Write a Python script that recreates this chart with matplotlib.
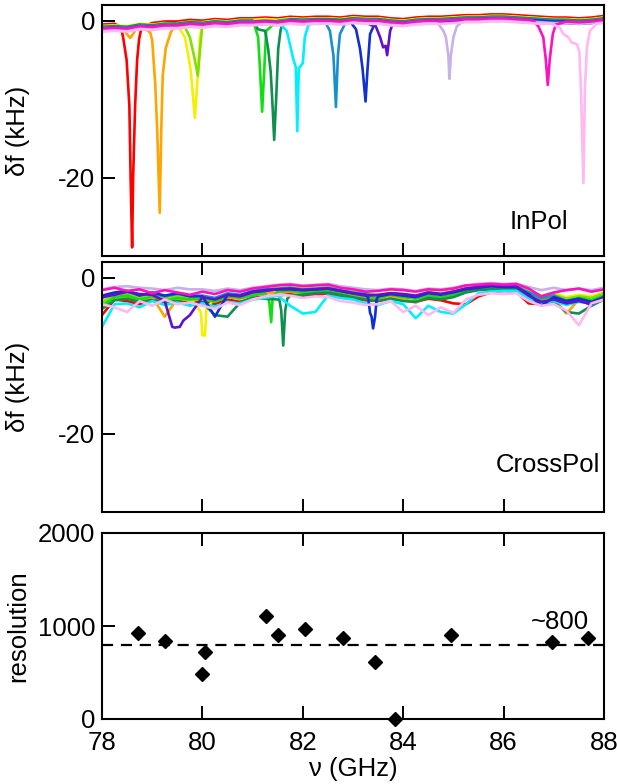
import numpy as np
import matplotlib
matplotlib.use("Agg")
import matplotlib.pyplot as plt

plt.rcParams["font.family"] = ["Liberation Sans", "DejaVu Sans"]
plt.rcParams["font.size"] = 18.5
plt.rcParams["axes.unicode_minus"] = False

# Trace colours (one per resonator)
colors = ["#ff0000", "#ffa500", "#f5f000", "#80e000", "#10e010", "#109050", "#00f0ff",
          "#1890d0", "#1030d0", "#6010d0", "#c8b0e8", "#ff10c0", "#ffb8f0"]

# === InPol: shared baseline (GHz, kHz) + per-trace offset + dip vertices
in_base_x = [78.00, 78.25, 78.50, 78.75, 79.00, 79.25, 79.50, 79.75, 80.00, 80.25, 80.50,
             80.75, 81.00, 81.25, 81.50, 81.75, 82.00, 82.25, 82.50, 82.75, 83.00, 83.25,
             83.50, 83.75, 84.00, 84.25, 84.50, 84.75, 85.00, 85.25, 85.50, 85.75, 86.00,
             86.25, 86.50, 86.75, 87.00, 87.25, 87.50, 87.75, 88.00]
in_base_y = [-0.9, -0.8, -0.9, -0.6, -0.7, -0.5, -0.5, -0.3, -0.4, -0.2, -0.3,
             -0.1, -0.1, 0.0, -0.1, 0.1, 0.0, 0.1, 0.1, 0.0, 0.2, 0.1,
             0.1, -0.1, -0.2, 0.0, 0.1, 0.1, 0.2, 0.3, 0.3, 0.4, 0.4,
             0.3, 0.2, 0.1, 0.0, 0.0, -0.1, 0.0, 0.2]
in_offset = [0.4, 0.2, 0.2, 0.0, 0.1, 0.1, -0.2, 0.0, -0.1, -0.3, -0.3, -0.1, -0.5]

dip_red_x = [78.38, 78.425, 78.49, 78.545, 78.57, 78.60, 78.62, 78.66, 78.70, 78.74, 78.79]
dip_red_y = [-0.8, -2.3, -5.0, -10.8, -20.0, -28.9, -20.0, -10.8, -5.0, -2.3, -0.8]
dip_orange_x = [78.40, 78.48, 78.56, 78.62, 78.69, 78.80, 78.96, 79.00, 79.06, 79.10, 79.15,
                79.18, 79.21, 79.27, 79.37, 79.45]
dip_orange_y = [-0.8, -1.6, -2.2, -1.7, -0.9, -0.8, -1.5, -2.5, -8.0, -14.0, -24.5,
                -14.0, -7.0, -3.5, -1.5, -0.6]
dip_yellow_x = [79.50, 79.65, 79.72, 79.77, 79.85, 79.90, 79.95, 79.99]
dip_yellow_y = [-0.5, -2.1, -4.4, -6.5, -12.4, -7.6, -2.1, -0.8]
dip_chart_x = [79.62, 79.75, 79.83, 79.91, 79.95, 79.99, 80.05]
dip_chart_y = [-0.4, -2.1, -4.4, -7.0, -3.9, -1.1, -0.5]
dip_green_x = [81.05, 81.11, 81.15, 81.19, 81.23, 81.27]
dip_green_y = [-0.85, -2.1, -6.5, -11.6, -6.5, -1.3]
dip_dkgreen_x = [81.11, 81.25, 81.31, 81.36, 81.39, 81.43, 81.47, 81.51, 81.56, 81.61]
dip_dkgreen_y = [-1.1, -1.3, -3.6, -6.5, -9.9, -15.2, -9.9, -3.6, -1.1, -0.3]
dip_cyan_x = [81.55, 81.68, 81.75, 81.81, 81.86, 81.89, 81.92, 82.00, 82.04, 82.11]
dip_cyan_y = [-0.4, -1.3, -3.2, -4.9, -5.9, -14.1, -6.1, -5.4, -2.1, -0.6]
dip_steel_x = [82.44, 82.54, 82.61, 82.66, 82.70, 82.74, 82.84]
dip_steel_y = [-0.1, -1.3, -4.4, -11.0, -4.4, -1.7, -0.4]
dip_blue_x = [82.94, 83.06, 83.14, 83.19, 83.25, 83.29, 83.34, 83.44]
dip_blue_y = [-0.1, -1.1, -3.6, -6.1, -10.3, -6.1, -1.7, -0.3]
dip_purple_x = [83.37, 83.44, 83.54, 83.60, 83.65, 83.68, 83.74, 83.79]
dip_purple_y = [-0.6, -0.5, -2.1, -3.4, -3.2, -4.4, -1.3, -0.4]
dip_lav_x = [84.70, 84.80, 84.85, 84.90, 84.92, 84.95, 85.00, 85.07, 85.17]
dip_lav_y = [-0.4, -1.3, -2.1, -4.4, -7.4, -4.4, -2.1, -0.7, -0.2]
dip_mag_x = [86.59, 86.69, 86.79, 86.84, 86.88, 86.92, 86.98, 87.04]
dip_mag_y = [0.0, -0.7, -2.1, -4.9, -8.2, -4.9, -1.7, -0.5]
dip_pink_x = [86.96, 87.12, 87.19, 87.29, 87.36, 87.46, 87.51, 87.54, 87.59, 87.62, 87.66,
              87.72, 87.85]
dip_pink_y = [-0.4, -0.9, -1.7, -2.1, -2.8, -3.0, -4.0, -8.6, -20.7, -8.6, -3.4,
              -1.3, -0.4]
in_dips = [(dip_red_x, dip_red_y), (dip_orange_x, dip_orange_y), (dip_yellow_x, dip_yellow_y),
           (dip_chart_x, dip_chart_y), (dip_green_x, dip_green_y), (dip_dkgreen_x, dip_dkgreen_y),
           (dip_cyan_x, dip_cyan_y), (dip_steel_x, dip_steel_y), (dip_blue_x, dip_blue_y),
           (dip_purple_x, dip_purple_y), (dip_lav_x, dip_lav_y), (dip_mag_x, dip_mag_y),
           (dip_pink_x, dip_pink_y)]

# === CrossPol traces on a common grid + extra dip vertices
cross_x = in_base_x
cross_red = [-4.8, -2.8, -3.0, -3.4, -2.7, -3.2, -2.9, -3.3, -3.0, -3.4, -2.8, -3.1, -2.6, -2.4,
             -2.3, -2.1, -2.4, -2.2, -2.0, -2.5, -2.6, -2.9, -3.0, -2.6, -2.9, -3.1, -2.7, -2.9,
             -3.3, -3.4, -2.4, -1.9, -1.7, -1.8, -3.3, -3.4, -3.0, -3.2, -2.8, -3.1, -2.6]
cross_orange = [-3.5, -2.6, -2.4, -2.9, -2.5, -5.0, -2.7, -2.9, -2.8, -3.0, -2.5, -2.7, -2.2, -2.0,
                -1.9, -1.8, -2.0, -1.9, -1.7, -2.1, -2.2, -2.6, -2.7, -2.4, -2.8, -3.2, -2.4, -2.6,
                -2.3, -1.8, -1.5, -1.3, -1.4, -1.3, -2.2, -2.9, -2.7, -4.6, -2.8, -3.2, -2.5]
cross_yellow = [-3.0, -2.3, -2.0, -2.4, -2.1, -2.6, -2.3, -2.5, -4.4, -2.6, -2.1, -2.3, -1.8, -1.5,
                -1.3, -1.2, -1.4, -1.3, -1.2, -1.6, -1.8, -2.0, -2.2, -1.9, -2.1, -2.3, -1.8, -2.0,
                -1.7, -1.3, -1.0, -0.9, -1.0, -1.0, -1.6, -2.3, -2.0, -2.5, -2.2, -2.4, -1.9]
cross_chart = [-3.2, -2.2, -2.1, -2.5, -2.0, -2.7, -2.4, -2.6, -2.8, -2.9, -2.2, -2.4, -1.9, -1.7,
               -1.5, -1.3, -1.5, -1.4, -1.3, -1.7, -1.9, -2.2, -2.3, -2.0, -2.2, -2.5, -2.0, -2.1,
               -1.8, -1.4, -1.2, -1.0, -1.1, -1.1, -1.8, -2.5, -2.2, -2.7, -2.4, -2.6, -2.0]
cross_green = [-3.6, -2.5, -2.3, -2.8, -2.4, -3.0, -2.6, -2.8, -2.7, -3.1, -2.4, -2.6, -2.3, -2.0,
               -1.8, -1.7, -1.9, -1.7, -1.6, -1.9, -2.1, -2.4, -2.6, -2.2, -2.5, -2.7, -2.3, -2.5,
               -2.2, -1.7, -1.4, -1.2, -1.3, -1.2, -2.0, -2.7, -2.5, -3.0, -2.6, -2.9, -2.3]
cross_dkgreen = [-4.0, -2.9, -2.7, -3.1, -2.9, -3.3, -3.0, -3.4, -3.2, -4.8, -5.0, -3.2, -2.6, -2.7,
                 -2.8, -2.3, -2.2, -2.0, -1.9, -2.2, -2.5, -2.8, -3.0, -2.7, -3.0, -3.1, -2.6, -2.8,
                 -2.5, -1.9, -1.6, -1.5, -1.5, -1.4, -2.6, -3.2, -3.1, -4.4, -4.6, -3.6, -2.8]
cross_cyan = [-6.3, -3.4, -3.3, -3.8, -3.0, -3.5, -3.2, -3.6, -3.3, -3.7, -3.1, -3.3, -2.8, -2.6,
              -2.3, -3.6, -4.6, -4.4, -2.3, -2.6, -2.8, -3.3, -3.5, -3.0, -3.4, -5.2, -3.6, -4.4,
              -4.6, -3.4, -2.0, -1.8, -1.7, -1.7, -2.7, -3.3, -3.0, -3.5, -3.1, -3.3, -2.8]
cross_steel = [-2.6, -2.0, -1.8, -2.2, -2.0, -2.4, -2.1, -2.3, -2.3, -2.6, -2.0, -2.2, -1.7, -1.5,
               -1.4, -1.3, -1.5, -1.4, -1.3, -1.6, -1.9, -2.1, -2.3, -2.0, -2.2, -2.4, -1.9, -2.1,
               -1.8, -1.4, -1.2, -1.0, -1.1, -1.1, -1.9, -2.6, -2.3, -3.0, -2.7, -3.6, -2.4]
cross_blue = [-2.3, -1.9, -1.7, -2.3, -1.9, -2.3, -2.0, -2.4, -2.4, -5.0, -2.2, -2.3, -1.8, -1.6,
              -1.5, -1.4, -1.6, -1.5, -1.4, -1.7, -2.0, -2.2, -2.4, -2.1, -2.3, -2.5, -2.0, -2.2,
              -1.9, -1.5, -1.3, -1.1, -1.2, -1.2, -2.1, -3.6, -2.5, -3.0, -2.7, -3.1, -2.5]
cross_purple = [-2.5, -2.2, -1.8, -2.1, -2.2, -3.0, -6.3, -4.8, -2.5, -2.8, -2.2, -2.4, -1.9, -1.7,
                -1.5, -1.5, -1.6, -1.5, -1.4, -1.7, -2.0, -2.3, -2.2, -2.0, -2.1, -2.3, -1.9, -2.1,
                -1.8, -1.4, -1.2, -1.0, -1.1, -1.1, -2.3, -3.1, -2.8, -3.3, -3.0, -3.4, -2.6]
cross_lav = [-1.5, -1.2, -1.1, -1.3, -1.4, -1.6, -1.3, -1.5, -1.5, -1.7, -1.4, -1.6, -1.3, -1.1,
             -0.9, -0.8, -1.0, -0.9, -0.8, -1.1, -1.3, -1.5, -1.6, -1.4, -1.5, -1.7, -1.4, -1.5,
             -1.3, -1.0, -0.8, -0.7, -0.8, -0.8, -1.2, -1.6, -1.3, -1.6, -1.4, -1.6, -1.3]
cross_mag = [-1.6, -1.3, -1.7, -1.5, -2.0, -1.6, -1.9, -2.2, -1.8, -2.1, -1.6, -1.8, -1.4, -1.2,
             -1.0, -0.9, -1.1, -1.0, -0.9, -1.3, -1.5, -1.8, -1.7, -1.5, -1.6, -1.8, -1.5, -1.6,
             -1.4, -1.0, -0.9, -0.8, -0.9, -0.8, -1.4, -2.4, -1.9, -1.6, -1.4, -1.8, -1.5]
cross_pink = [-3.4, -3.8, -4.4, -3.0, -3.6, -2.8, -3.4, -3.2, -3.6, -4.0, -3.2, -3.5, -2.8, -2.4,
              -2.2, -2.3, -2.6, -2.4, -2.5, -3.0, -3.2, -3.5, -3.4, -3.0, -4.4, -3.6, -4.8, -3.8,
              -4.5, -2.8, -2.2, -2.0, -2.1, -2.0, -3.0, -3.6, -3.4, -4.2, -6.1, -3.3, -2.8]
cross_traces = [cross_red, cross_orange, cross_yellow, cross_chart, cross_green, cross_dkgreen,
                cross_cyan, cross_steel, cross_blue, cross_purple, cross_lav, cross_mag, cross_pink]

# extra narrow features in CrossPol (trace index -> vertices)
cross_extra = {
    2: ([79.97, 80.00, 80.05, 80.08], [-4.4, -7.4, -7.4, -4.0]),
    4: ([81.33, 81.37, 81.40], [-3.0, -5.7, -2.4]),
    5: ([81.53, 81.57, 81.61, 81.65, 81.69], [-2.7, -4.2, -8.7, -4.2, -2.7]),
    8: ([83.30, 83.34, 83.37, 83.40, 83.44, 83.47], [-2.5, -4.5, -5.0, -6.5, -5.0, -2.8]),
    9: ([79.40, 79.45, 79.55, 79.62], [-6.3, -6.4, -6.3, -5.5]),
}

# === Resolution
res_x = [78.71, 79.26, 79.99, 80.05, 81.26, 81.51, 82.04, 82.81, 83.44, 83.84, 84.96, 86.96, 87.68]
res_y = [925, 835, 480, 724, 1111, 903, 968, 871, 616, 5, 903, 824, 875]
res_level = 800


def merge(bx, by, ex, ey, off=0.0):
    # keep baseline outside the feature span, then add the feature vertices
    pts = [(x, y + off) for x, y in zip(bx, by) if x < ex[0] or x > ex[-1]]
    pts += list(zip(ex, ey))
    pts.sort()
    return [p[0] for p in pts], [p[1] for p in pts]


W = 617 / 100
H = 784 / 100
fig = plt.figure(figsize=(W, H), dpi=100)
left, width = 102 / 617, 502 / 617
ax1 = fig.add_axes([left, 1 - 256 / 784, width, 251 / 784])
ax2 = fig.add_axes([left, 1 - 512 / 784, width, 250 / 784])
ax3 = fig.add_axes([left, 1 - 719 / 784, width, 186 / 784])

lw = 1.9
for c, off, (dx, dy) in zip(colors, in_offset, in_dips):
    xs, ys = merge(in_base_x, in_base_y, dx, dy, off)
    ax1.plot(xs, ys, color=c, lw=lw, solid_joinstyle="round")

for i, (c, ys) in enumerate(zip(colors, cross_traces)):
    xs = list(cross_x)
    yy = list(ys)
    if i in cross_extra:
        xs, yy = merge(cross_x, ys, *cross_extra[i])
    ax2.plot(xs, yy, color=c, lw=lw, solid_joinstyle="round")

ax3.plot(res_x, res_y, "D", color="black", ms=7.5, clip_on=False, zorder=3)
ax3.axhline(res_level, color="black", lw=1.6, ls=(0, (5, 3.5)))

for ax in (ax1, ax2):
    ax.set_xlim(78, 88)
    ax.set_ylim(-30, 2)
    ax.set_yticks([0, -20])
    ax.set_ylabel("δf (kHz)")
    ax.tick_params(labelbottom=False)
ax3.set_xlim(78, 88)
ax3.set_ylim(0, 2000)
ax3.set_yticks([0, 1000, 2000])
ax3.set_ylabel("resolution")

for ax in (ax1, ax2, ax3):
    ax.set_xticks([78, 80, 82, 84, 86, 88])
    ax.tick_params(direction="in", length=9.5, width=1.4, pad=5,
                   top=(ax is not ax1), right=False)
    for s in ax.spines.values():
        s.set_linewidth(1.5)
    ax.yaxis.set_label_coords(-0.143, 0.5)

ax3.tick_params(axis="x", pad=9)
ax3.set_xlabel("ν (GHz)", labelpad=1)

ax1.text(0.928, 0.135, "InPol", transform=ax1.transAxes, ha="right", va="center")
ax2.text(0.992, 0.188, "CrossPol", transform=ax2.transAxes, ha="right", va="center")
ax3.text(87.7, 1040, "~800", ha="right", va="center")

fig.savefig("out.png", dpi=100)
